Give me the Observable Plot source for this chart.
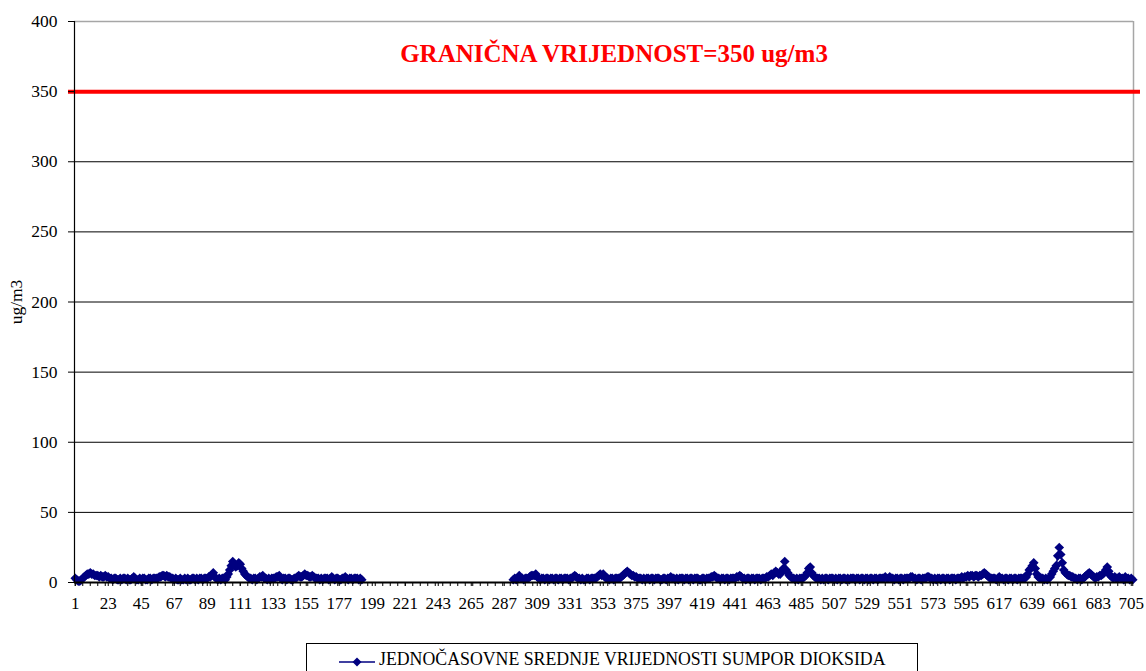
<!DOCTYPE html>
<html><head><meta charset="utf-8">
<script src="https://cdn.jsdelivr.net/npm/d3@7"></script>
<script src="https://cdn.jsdelivr.net/npm/@observablehq/plot@0.6"></script>
<style>
body{margin:0;background:#fff;}
#wrap{position:relative;width:1146px;height:671px;overflow:hidden;font-family:'Liberation Serif',serif;background:#fff;}
#chart{position:absolute;left:0;top:0;}
#chart svg text{font-family:'Liberation Serif',serif;}
#legend{position:absolute;left:306px;top:643px;width:612px;height:40px;border:1px solid #000;box-sizing:border-box;background:#fff;}
#legend svg{position:absolute;left:30px;top:8px;}
#legend span{position:absolute;left:72px;top:5px;font-family:'Liberation Serif',serif;font-size:17.8px;color:#000;white-space:nowrap;}
</style></head><body>
<div id="wrap"><div id="chart"></div><div id="legend"></div></div>
<script>
// hourly SO2 values, hours 1..192
const seg1 = [3,2,1,1,2,3,4,5,6,6,
 7,6,6,5,5,5,4,5,4,4,
 5,4,4,3,3,2,3,3,2,2,
 3,2,3,3,2,3,2,
 2,3,4,3,2,2,3,2,3,3,
 2,2,3,3,2,3,3,3,3,4,
 4,5,5,4,5,4,4,3,3,2,
 3,2,2,3,2,2,3,2,3,2,
 2,3,3,2,3,2,3,3,2,3,
 3,3,4,4,5,7,4,3,2,3,
 2,3,3,2,4,6,9,12,15,13,
 11,12,14,13,10,8,6,5,4,3,
 3,2,3,3,2,3,4,4,5,3,
 3,2,3,2,3,3,3,4,4,5,
 3,2,3,3,2,3,3,2,2,3,
 3,4,5,4,4,5,6,5,5,4,
 4,5,4,3,3,3,2,3,2,3,
 3,3,2,3,4,3,2,3,3,2,
 2,3,3,4,3,2,3,3,2,3,
 3,3,2,3,2];
// hours 193..292 missing
const gapLength = 100;
// hours 293..706
const seg2 = [2,3,2,3,5,3,3,2,3,3,
 3,4,5,5,5,6,4,3,2,3,
 3,2,3,3,2,3,3,2,3,3,
 2,3,3,2,3,3,3,2,3,3,
 4,5,4,3,3,2,3,2,2,3,
 3,2,3,3,3,3,4,5,6,5,
 6,4,3,3,2,3,3,2,3,3,
 3,3,4,5,6,7,8,7,6,5,
 5,4,4,3,3,3,2,3,2,3,
 3,2,3,3,2,3,3,3,2,2,
 3,3,2,3,3,4,3,3,2,3,
 2,3,3,3,2,3,3,2,3,3,
 2,3,3,3,2,2,3,3,2,3,
 3,3,4,4,5,4,3,3,2,3,
 3,2,3,3,2,3,3,3,3,4,
 4,5,4,3,3,2,3,3,2,3,
 3,2,3,3,3,2,3,3,3,4,
 4,5,6,5,7,8,7,6,6,8,
 10,15,9,7,5,4,3,3,2,3,
 2,3,3,3,4,5,7,10,11,7,
 5,4,3,3,3,2,3,2,3,3,
 2,3,3,3,2,3,2,3,3,2,
 3,3,2,3,2,3,3,3,2,3,
 3,2,3,3,2,3,3,2,3,3,
 2,3,3,2,3,3,3,3,4,3,
 3,4,3,3,2,3,3,2,3,3,
 2,3,3,3,3,4,4,3,3,2,
 3,3,2,3,3,3,4,4,3,3,
 2,3,2,3,3,2,3,3,2,3,
 3,2,3,3,3,2,3,3,3,4,
 3,4,4,5,4,5,5,4,5,5,
 4,5,5,6,7,6,5,4,3,3,
 3,3,2,3,4,3,3,2,3,3,
 2,3,3,2,3,3,2,3,3,3,
 3,3,4,6,9,10,12,14,10,6,
 4,3,3,3,2,3,2,3,4,6,
 8,10,12,19,25,20,14,9,7,6,
 5,5,4,4,3,3,2,3,3,2,
 3,4,5,6,7,6,5,4,3,4,
 4,5,5,6,7,9,11,8,5,4,
 3,4,3,3,4,3,3,2,4,3,
 3,2,3,2];
const limitValue = 350;
const limitLabel = "GRANIČNA VRIJEDNOST=350 ug/m3";
const seriesName = "JEDNOČASOVNE SREDNJE VRIJEDNOSTI SUMPOR DIOKSIDA";
const yLabel = "ug/m3";
const yTicks = [0,50,100,150,200,250,300,350,400];
const xLabelTicks = [1,23,45,67,89,111,133,155,177,199,221,243,265,287,309,331,353,375,397,419,441,463,485,507,529,551,573,595,617,639,661,683,705];
const nHours = 706;

const values = [...seg1, ...Array(gapLength).fill(null), ...seg2];
const data = values.map((v, i) => ({hour: i + 1, value: v}));
const navy = "#000080";
const serif = "Liberation Serif";
const diamond = {draw(ctx){ const r = 4.8; ctx.moveTo(0,-r); ctx.lineTo(r,0); ctx.lineTo(0,r); ctx.lineTo(-r,0); ctx.closePath(); }};
const minorTicks = d3.range(1, nHours + 1, 5);

const chart = Plot.plot({
  width: 1146, height: 625,
  marginLeft: 74, marginRight: 13, marginTop: 21, marginBottom: 43,
  x: {domain: [0.5, nHours + 0.5], axis: null},
  y: {domain: [0, 400], axis: null},
  style: {fontFamily: serif, fontSize: "15px", color: "#000", background: "#fff"},
  marks: [
    Plot.ruleY(yTicks.filter(d => d > 0 && d < 400), {stroke: "#000", strokeWidth: 1}),
    Plot.ruleY([400], {stroke: "#a6a6a6", strokeWidth: 1.5}),
    Plot.ruleX([nHours + 0.5], {stroke: "#a6a6a6", strokeWidth: 1.5}),
    Plot.ruleY([limitValue], {stroke: "#ff0000", strokeWidth: 4, insetLeft: -6, insetRight: -7}),
    Plot.text([limitLabel], {frameAnchor: "top", dx: 10, dy: 32, lineAnchor: "middle", fontFamily: serif, fontSize: 25, fontWeight: "bold", fill: "#ff0000"}),
    Plot.line(data, {x: "hour", y: "value", stroke: navy, strokeWidth: 1.5}),
    Plot.dot(data.filter(d => d.value != null), {x: "hour", y: "value", symbol: diamond, fill: navy, stroke: "none"}),
    Plot.ruleX([0.5], {stroke: "#000", strokeWidth: 1.2}),
    Plot.ruleY([0], {stroke: "#000", strokeWidth: 2}),
    Plot.axisY(yTicks, {tickSize: 6, tickPadding: 11, fontFamily: serif, fontSize: 17.5, label: null}),
    Plot.axisX(minorTicks, {tickSize: 4, tickFormat: () => "", label: null}),
    Plot.axisX(xLabelTicks, {tickSize: 4, tickPadding: 10, fontFamily: serif, fontSize: 17, label: null}),
    Plot.text([yLabel], {frameAnchor: "left", textAnchor: "middle", rotate: -90, dx: -58, fontFamily: serif, fontSize: 17.5})
  ]
});
document.getElementById("chart").appendChild(chart);

const legend = document.getElementById("legend");
legend.innerHTML = `<svg width="40" height="20"><line x1="2" y1="10" x2="38" y2="10" stroke="${navy}" stroke-width="1.5"/><path d="M20,5.5L24.5,10L20,14.5L15.5,10Z" fill="${navy}"/></svg><span></span>`;
legend.querySelector("span").textContent = seriesName;
</script>
</body></html>
